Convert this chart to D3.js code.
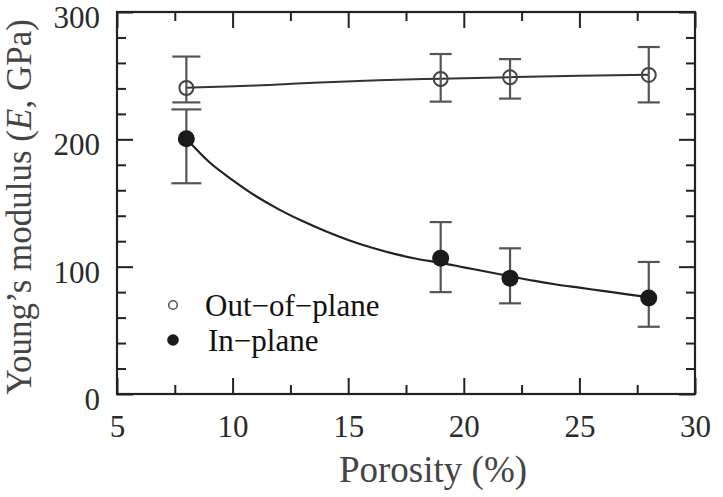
<!DOCTYPE html>
<html>
<head>
<meta charset="utf-8">
<script src="https://cdn.jsdelivr.net/npm/d3@7"></script>
<style>
  html, body { margin: 0; padding: 0; background: #fff; }
  svg { display: block; font-family: "Liberation Serif", "Times New Roman", serif; }
</style>
</head>
<body>
<svg id="chart" width="723" height="497"></svg>
<script>
// ---- data ----
const porosity = [8, 19, 22, 28];
const outOfPlane = [240.3, 247.4, 248.7, 250.6];
const outOfPlaneHi = [265, 267, 263, 272.5];
const outOfPlaneLo = [229, 229.6, 232, 229];
const inPlane = [200.4, 106.6, 91, 75.4];
const inPlaneHi = [223.5, 135, 114.4, 103.7];
const inPlaneLo = [165.5, 80, 71.2, 52.8];
const fitOutX = [8, 9, 11, 13.5, 16.3, 19, 22, 25, 28];
const fitOutY = [240.5, 241.1, 242.2, 244.4, 246.4, 247.6, 248.8, 249.9, 250.8];
const fitInX = [8, 9, 10, 11, 12, 13, 14, 15, 16, 17, 18, 19, 20, 21, 22, 23, 24, 25, 26, 27, 28];
const fitInY = [200.5, 182, 168, 155.5, 145, 136, 128, 121, 115, 110, 106, 103, 99.5, 96, 92.5, 89, 86, 83.5, 81, 78.5, 76];
const xTicks = [5, 10, 15, 20, 25, 30];
const yTicks = [0, 100, 200, 300];
const xMinor = [7.5, 12.5, 17.5, 22.5, 27.5];
const yMinor = [20, 40, 60, 80, 120, 140, 160, 180, 220, 240, 260, 280];
const legendLabels = ["Out\u2212of\u2212plane", "In\u2212plane"];
const xTitle = "Porosity (%)";

// ---- layout ----
const L = 117, R = 695, T = 12, B = 394;
const svg = d3.select("#chart");
const x = d3.scaleLinear().domain([5, 30]).range([L, R]);
const y = d3.scaleLinear().domain([0, 300]).range([B, T]);
const ink = "#222";
const FS = 31;

function styleAxis(g) {
  g.select(".domain").remove();
  g.selectAll("line").attr("stroke", ink).attr("stroke-width", 2);
  g.selectAll("text").attr("fill", "#2a2a2a").style("font-size", FS + "px")
    .style("font-family", '"Liberation Serif", "Times New Roman", serif');
}

// major ticks with labels
svg.append("g").attr("transform", `translate(0,${B})`)
  .call(d3.axisBottom(x).tickValues(xTicks).tickSize(-16).tickPadding(21).tickFormat(d3.format("d")))
  .call(styleAxis);
svg.append("g").attr("transform", `translate(${L},0)`)
  .call(d3.axisLeft(y).tickValues(yTicks).tickSize(-16).tickPadding(17).tickFormat(d3.format("d")))
  .call(styleAxis)
  .selectAll("text").attr("dy", "0.5em");
// top / right majors
svg.append("g").attr("transform", `translate(0,${T})`)
  .call(d3.axisTop(x).tickValues(xTicks).tickSize(-16).tickFormat(""))
  .call(styleAxis);
svg.append("g").attr("transform", `translate(${R},0)`)
  .call(d3.axisRight(y).tickValues(yTicks).tickSize(-16).tickFormat(""))
  .call(styleAxis);
// minors
svg.append("g").attr("transform", `translate(0,${B})`)
  .call(d3.axisBottom(x).tickValues(xMinor).tickSize(-9).tickFormat("")).call(styleAxis);
svg.append("g").attr("transform", `translate(0,${T})`)
  .call(d3.axisTop(x).tickValues(xMinor).tickSize(-9).tickFormat("")).call(styleAxis);
svg.append("g").attr("transform", `translate(${L},0)`)
  .call(d3.axisLeft(y).tickValues(yMinor).tickSize(-9).tickFormat("")).call(styleAxis);
svg.append("g").attr("transform", `translate(${R},0)`)
  .call(d3.axisRight(y).tickValues(yMinor).tickSize(-9).tickFormat("")).call(styleAxis);

// frame
svg.append("rect").attr("x", L).attr("y", T).attr("width", R - L).attr("height", B - T)
  .attr("fill", "none").attr("stroke", ink).attr("stroke-width", 2.2);

// fit lines
const line = d3.line().x(d => x(d[0])).y(d => y(d[1])).curve(d3.curveMonotoneX);
svg.append("path").datum(fitOutX.map((v, i) => [v, fitOutY[i]]))
  .attr("d", line).attr("fill", "none").attr("stroke", "#333").attr("stroke-width", 2);
svg.append("path").datum(fitInX.map((v, i) => [v, fitInY[i]]))
  .attr("d", line).attr("fill", "none").attr("stroke", "#222").attr("stroke-width", 2.2);

// error bars
function errorBars(vals, hi, lo, capHalf) {
  const g = svg.append("g").attr("stroke", "#555").attr("stroke-width", 2.2);
  porosity.forEach((p, i) => {
    const cx = x(p), ch = capHalf(i);
    g.append("line").attr("x1", cx).attr("x2", cx).attr("y1", y(hi[i])).attr("y2", y(lo[i]));
    g.append("line").attr("x1", cx - ch).attr("x2", cx + ch).attr("y1", y(hi[i])).attr("y2", y(hi[i]));
    g.append("line").attr("x1", cx - ch).attr("x2", cx + ch).attr("y1", y(lo[i])).attr("y2", y(lo[i]));
  });
}
errorBars(outOfPlane, outOfPlaneHi, outOfPlaneLo, i => i === 0 ? 14 : 11);
errorBars(inPlane, inPlaneHi, inPlaneLo, i => i === 0 ? 15 : 11);

// markers
svg.append("g").selectAll("circle").data(porosity).join("circle")
  .attr("cx", d => x(d)).attr("cy", (d, i) => y(outOfPlane[i])).attr("r", 7)
  .attr("fill", "none").attr("stroke", "#444").attr("stroke-width", 2);
svg.append("g").selectAll("circle").data(porosity).join("circle")
  .attr("cx", d => x(d)).attr("cy", (d, i) => y(inPlane[i])).attr("r", 8.5)
  .attr("fill", "#1a1a1a");

// legend
const lg = svg.append("g");
lg.append("circle").attr("cx", 173).attr("cy", 305).attr("r", 4.3)
  .attr("fill", "none").attr("stroke", "#555").attr("stroke-width", 1.6);
lg.append("circle").attr("cx", 173).attr("cy", 340).attr("r", 5.8).attr("fill", "#1a1a1a");
lg.selectAll("text").data(legendLabels).join("text")
  .attr("x", (d, i) => i === 0 ? 205 : 208).attr("y", (d, i) => i === 0 ? 316 : 351)
  .attr("fill", "#111").style("font-size", FS + "px").text(d => d);

// axis titles
svg.append("text").attr("x", 433).attr("y", 482).attr("text-anchor", "middle")
  .attr("fill", "#444").style("font-size", "37px").text(xTitle);
const yt = svg.append("text").attr("transform", `translate(31,${(T + B) / 2 + 4}) rotate(-90)`)
  .attr("text-anchor", "middle").attr("fill", "#444").style("font-size", "35px");
yt.append("tspan").text("Young\u2019s modulus (");
yt.append("tspan").style("font-style", "italic").text("E");
yt.append("tspan").text(", GPa)");
</script>
</body>
</html>
